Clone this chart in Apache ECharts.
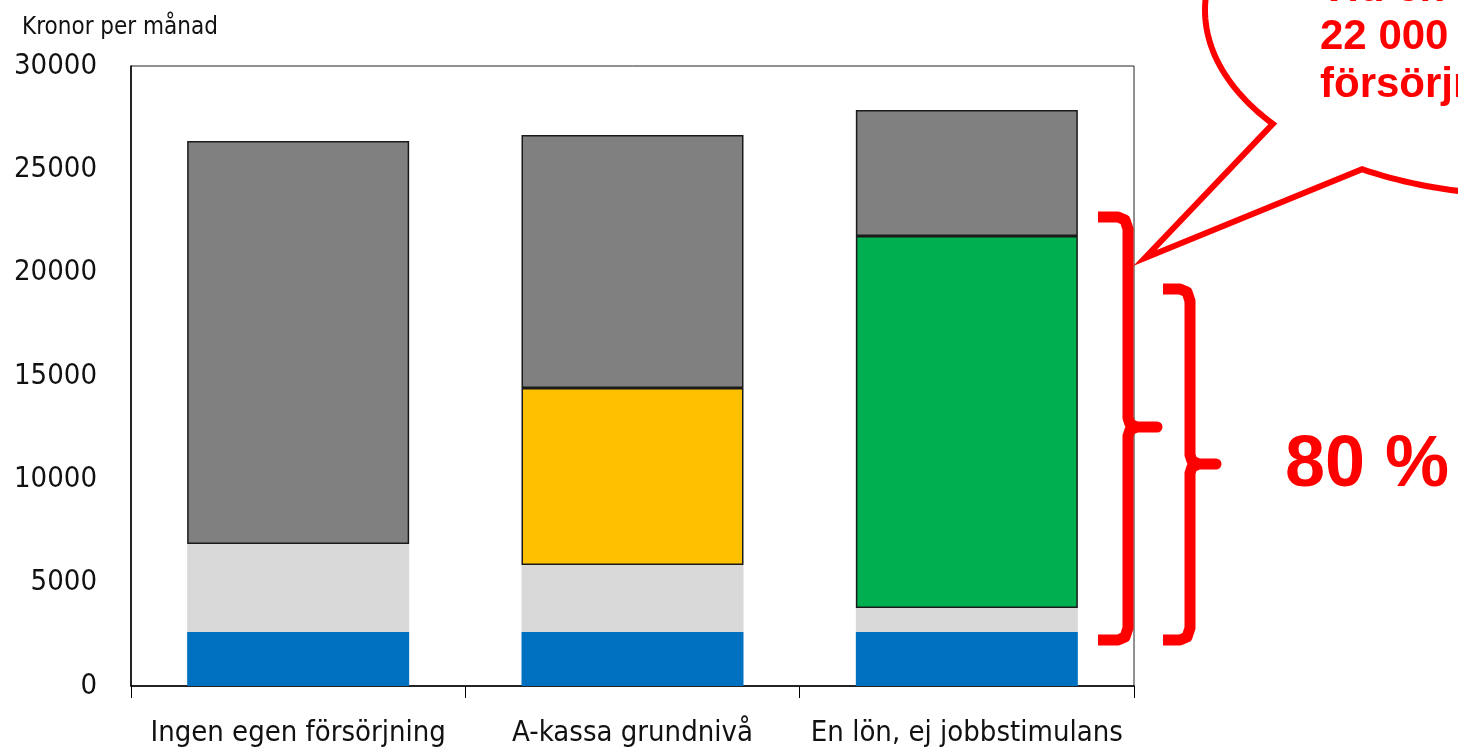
<!DOCTYPE html>
<html>
<head>
<meta charset="utf-8">
<script src="https://cdn.jsdelivr.net/npm/echarts@6/dist/echarts.min.js"></script>
<style>
  html, body { margin: 0; padding: 0; background: #fff; }
  #chart { width: 1458px; height: 752px; }
</style>
</head>
<body>
<div id="chart"></div>
<script>
// categories and stacked segments (kronor per månad)
const categories = ['Ingen egen försörjning', 'A-kassa grundnivå', 'En lön, ej jobbstimulans']
const blueVals = [2610, 2610, 2610]
const lightGrayVals = [4260, 3240, 1160]
const yellowVals = ['-', 8570, '-']
const greenVals = ['-', '-', 18000]
const darkGrayVals = [19500, 12240, 6100]
const yTicks = [0, 5000, 10000, 15000, 20000, 25000, 30000]

const FONT = '"DejaVu Sans Condensed", "Liberation Sans Narrow", sans-serif'
const BOLD = 'bold 42px "Liberation Sans", Arial, sans-serif'
const RED = '#ff0000'

const chart = echarts.init(document.getElementById('chart'))

function seg(name, data, color, bordered) {
  return {
    name,
    type: 'bar',
    stack: 'total',
    barWidth: 222,
    data,
    itemStyle: {
      color,
      borderColor: bordered ? '#1a1a1a' : color,
      borderWidth: bordered ? 1.5 : 0
    },
    emphasis: { disabled: true }
  }
}

// outline of the speech bubble: part of an ellipse with a pointed tail
function ellipseArc(cx, cy, rx, ry, a0, a1, n) {
  const pts = []
  for (let i = 0; i <= n; i++) {
    const a = a0 + (a1 - a0) * i / n
    pts.push([cx + rx * Math.cos(a), cy + ry * Math.sin(a)])
  }
  return pts
}
const deg = Math.PI / 180
const bubble = [
  ...ellipseArc(1525, 10, 320, 185, 186 * deg, 142 * deg, 30),
  [1145, 258],
  ...ellipseArc(1525, 10, 320, 185, 120.6 * deg, 92 * deg, 20)
]

function brace(xEnd, xMid, xTip, yTop, yTip, yBot) {
  return [
    [xEnd, yTop], [xMid - 10, yTop], [xMid - 3, yTop + 3], [xMid, yTop + 12],
    [xMid, yTip - 9], [xMid + 2, yTip - 3], [xMid + 9, yTip], [xTip, yTip],
    [xMid + 9, yTip], [xMid + 2, yTip + 3], [xMid, yTip + 9],
    [xMid, yBot - 12], [xMid - 3, yBot - 3], [xMid - 10, yBot], [xEnd, yBot]
  ]
}

chart.setOption({
  animation: false,
  grid: {
    left: 131, right: 324, top: 66, bottom: 66,
    outerBoundsMode: 'none',
    show: true, borderColor: '#222', borderWidth: 1, backgroundColor: 'transparent'
  },
  xAxis: {
    type: 'category',
    data: categories,
    axisLine: { lineStyle: { color: '#000', width: 1.5 } },
    axisTick: { show: true, length: 12, lineStyle: { color: '#000', width: 1 } },
    axisLabel: { interval: 0, color: '#111', fontFamily: FONT, fontSize: 29, margin: 33 }
  },
  yAxis: {
    type: 'value',
    min: yTicks[0],
    max: yTicks[yTicks.length - 1],
    interval: 5000,
    name: 'Kronor per månad',
    nameLocation: 'end',
    nameGap: 38,
    nameTextStyle: { color: '#111', fontFamily: FONT, fontSize: 24, align: 'center', verticalAlign: 'middle', padding: [0, 22, 0, 0] },
    axisLine: { show: true, lineStyle: { color: '#000', width: 1.5 } },
    axisTick: { show: false },
    splitLine: { show: false },
    axisLabel: { color: '#111', fontFamily: FONT, fontSize: 29, margin: 34, formatter: (v) => String(v) }
  },
  series: [
    seg('Blå', blueVals, '#0070c0', false),
    seg('Ljusgrå', lightGrayVals, '#d9d9d9', false),
    seg('Gul', yellowVals, '#ffc000', true),
    seg('Grön', greenVals, '#00b050', true),
    seg('Mörkgrå', darkGrayVals, '#808080', true)
  ],
  graphic: [
    {
      type: 'polyline',
      shape: { points: bubble },
      style: { fill: 'none', stroke: RED, lineWidth: 6, lineJoin: 'miter' }
    },
    { type: 'text', x: 1320, y: -11, style: { text: 'Vid en lön på', fill: RED, font: BOLD, verticalAlign: 'middle' } },
    { type: 'text', x: 1320, y: 37, style: { text: '22 000 kr är', fill: RED, font: BOLD, verticalAlign: 'middle' } },
    { type: 'text', x: 1320, y: 85, style: { text: 'försörjningsgraden', fill: RED, font: BOLD, verticalAlign: 'middle' } },
    {
      type: 'polyline',
      shape: { points: brace(1098, 1128, 1157, 217, 427, 640) },
      style: { fill: 'none', stroke: RED, lineWidth: 11, lineJoin: 'round' }
    },
    {
      type: 'polyline',
      shape: { points: brace(1163, 1190, 1216, 289, 464, 640) },
      style: { fill: 'none', stroke: RED, lineWidth: 11, lineJoin: 'round' }
    },
    { type: 'text', x: 1285, y: 466, style: { text: '80 %', fill: RED, font: 'bold 72px "Liberation Sans", Arial, sans-serif', verticalAlign: 'middle' } }
  ]
})
</script>
</body>
</html>
